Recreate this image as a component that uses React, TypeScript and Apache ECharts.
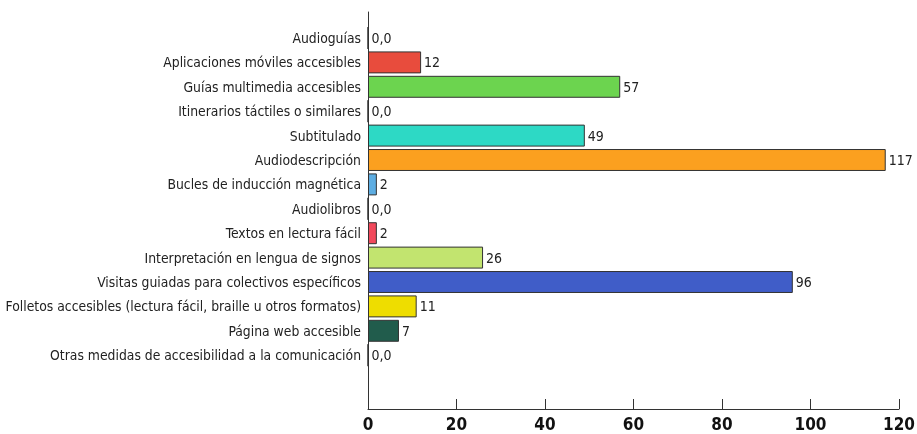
import React, { useEffect, useRef } from "react";
import * as echarts from "echarts";

const categories = [
  "Audioguías",
  "Aplicaciones móviles accesibles",
  "Guías multimedia accesibles",
  "Itinerarios táctiles o similares",
  "Subtitulado",
  "Audiodescripción",
  "Bucles de inducción magnética",
  "Audiolibros",
  "Textos en lectura fácil",
  "Interpretación en lengua de signos",
  "Visitas guiadas para colectivos específicos",
  "Folletos accesibles (lectura fácil, braille u otros formatos)",
  "Página web accesible",
  "Otras medidas de accesibilidad a la comunicación",
];
const values = [0, 12, 57, 0, 49, 117, 2, 0, 2, 26, 96, 11, 7, 0];
const colors = [
  "#E84C3D", "#E84C3D", "#6CD44F", "#2DD9C5", "#2DD9C5", "#FBA01F", "#5DADE2",
  "#5DADE2", "#F2495C", "#C2E46F", "#405DC8", "#EEDD00", "#215C4C", "#215C4C",
];
const xTicks = [0, 20, 40, 60, 80, 100, 120];

const FONT = "'DejaVu Sans Condensed', 'Liberation Sans Narrow', 'Roboto', sans-serif";

export default function App() {
  const ref = useRef<HTMLDivElement>(null);
  useEffect(() => {
    if (!ref.current) return;
    const chart = echarts.init(ref.current, undefined, { renderer: "svg" });
    chart.setOption({
      animation: false,
      grid: [
        { left: 368, right: 18, top: 12, bottom: 25, containLabel: false, outerBoundsMode: "none" },
        { left: 368, right: 18, top: 25.8, height: 341.6, containLabel: false, outerBoundsMode: "none" },
      ],
      xAxis: [
        {
          type: "value",
          gridIndex: 0,
          min: xTicks[0],
          max: xTicks[xTicks.length - 1],
          interval: 20,
          axisLine: { show: true, lineStyle: { color: "#333", width: 1 } },
          axisTick: { show: true, inside: true, length: 10, lineStyle: { color: "#333" } },
          splitLine: { show: false },
          axisLabel: {
            color: "#111",
            fontFamily: FONT,
            fontWeight: "bold",
            fontSize: 17,
            margin: 6,
          },
        },
        {
          type: "value",
          gridIndex: 1,
          min: 0,
          max: 120,
          show: false,
        },
      ],
      yAxis: [
        {
          type: "value",
          gridIndex: 0,
          min: 0,
          max: 1,
          axisLine: { show: true, lineStyle: { color: "#333", width: 1 } },
          axisTick: { show: false },
          axisLabel: { show: false },
          splitLine: { show: false },
        },
        {
          type: "category",
          gridIndex: 1,
          inverse: true,
          data: categories,
          axisLine: { show: false },
          axisTick: { show: false },
          splitLine: { show: false },
          axisLabel: {
            color: "#222",
            fontFamily: FONT,
            fontSize: 13.8,
            margin: 7,
          },
        },
      ],
      series: [
        {
          type: "bar",
          xAxisIndex: 1,
          yAxisIndex: 1,
          data: values.map((v, i) => ({
            value: v,
            itemStyle: { color: colors[i] },
          })),
          barCategoryGap: "10%",
          itemStyle: { borderColor: "#333", borderWidth: 1 },
          label: {
            show: true,
            position: "right",
            distance: 3,
            color: "#222",
            fontFamily: FONT,
            fontSize: 14,
            formatter: (p: any) => (p.value === 0 ? "0,0" : String(p.value)),
          },
        },
      ],
    });
    return () => chart.dispose();
  }, []);
  return (
    <div
      ref={ref}
      style={{ position: "fixed", left: 0, top: 0, width: 917, height: 434 }}
    />
  );
}
